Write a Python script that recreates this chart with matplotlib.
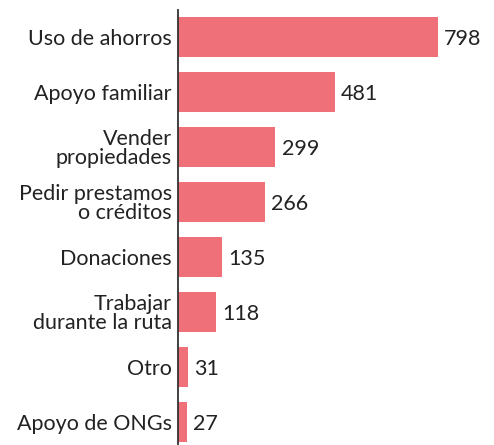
import matplotlib
matplotlib.use("Agg")
import matplotlib.pyplot as plt

categories = ["Uso de ahorros", "Apoyo familiar", "Vender\npropiedades",
              "Pedir prestamos\no créditos", "Donaciones",
              "Trabajar\ndurante la ruta", "Otro", "Apoyo de ONGs"]
values = [798, 481, 299, 266, 135, 118, 31, 27]

plt.rcParams['font.family'] = ['Lato', 'DejaVu Sans']

fig = plt.figure(figsize=(4.94, 4.45), dpi=100)
ax = fig.add_axes([178 / 494, 0, 316 / 494, 435 / 445])

pos = list(range(len(values)))
bars = ax.barh(pos, values, height=40 / 55, color="#F0707A")
for p, v in zip(pos, values):
    ax.annotate(str(v), xy=(v, p), xytext=(4.5, 0), textcoords="offset points",
                ha="left", va="center_baseline", fontsize=15.5, color="#222222")

ax.set_ylim(7.418, -0.491)
ax.set_xlim(0, 970)
ax.set_yticks(pos)
ax.set_yticklabels(categories, fontsize=15.5, color="#222222", linespacing=0.95)
ax.tick_params(axis="y", length=0, pad=4.5)
ax.set_xticks([])
for s in ["top", "right", "bottom"]:
    ax.spines[s].set_visible(False)
ax.spines["left"].set_color("#333333")
ax.spines["left"].set_linewidth(1.3)

fig.savefig("out.png", dpi=100)
